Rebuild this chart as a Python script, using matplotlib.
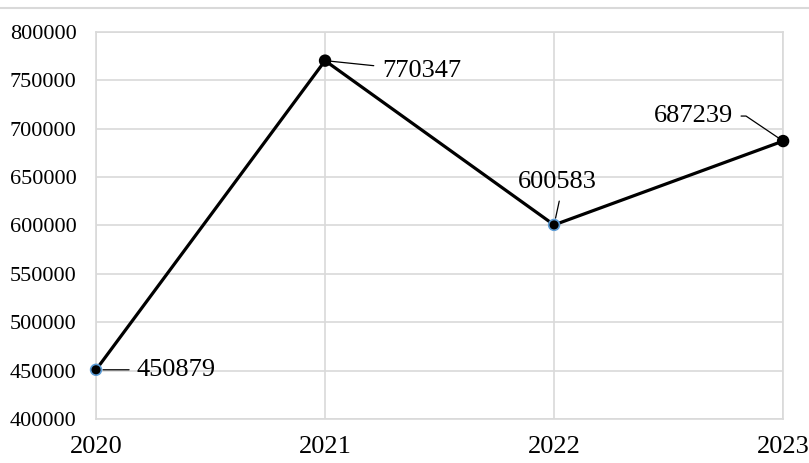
import matplotlib.pyplot as plt
from matplotlib.lines import Line2D

years = [2020, 2021, 2022, 2023]
values = [450879, 770347, 600583, 687239]
edge_colors = ['#5b9bd5', 'black', '#5b9bd5', 'black']

plt.rcParams['font.family'] = ['Liberation Serif', 'DejaVu Serif']

fig = plt.figure(figsize=(8.09, 4.63), dpi=100)
ax = fig.add_axes([0.1187, 0.095, 0.8493, 0.836])

ax.plot(years, values, color='black', linewidth=2.3, zorder=3, clip_on=False)
ax.scatter(years, values, s=60, color='black', edgecolors=edge_colors,
           linewidths=1.2, zorder=4, clip_on=False)

ax.set_xlim(2020, 2023)
ax.set_ylim(400000, 800000)
ax.set_xticks(years)
ax.set_yticks(range(400000, 800001, 50000))
ax.tick_params(axis='x', labelsize=19, length=0, pad=12)
ax.tick_params(axis='y', labelsize=16, length=0, pad=14)
ax.grid(color='#d9d9d9', linewidth=1.2)
ax.set_axisbelow(True)
for s in ax.spines.values():
    s.set_color('#d9d9d9')
    s.set_linewidth(1.2)

# data labels with leader lines
lead = dict(arrowstyle='-', color='black', lw=0.9)
ax.annotate(str(values[0]), (years[0], values[0]), xytext=(40, 0),
            textcoords='offset pixels', fontsize=19, ha='left', va='center',
            arrowprops=dict(lead, shrinkA=3, shrinkB=5))
ax.annotate(str(values[1]), (years[1], values[1]), xytext=(57, -10),
            textcoords='offset pixels', fontsize=19, ha='left', va='center',
            arrowprops=dict(lead, shrinkA=4, shrinkB=4))
ax.annotate(str(values[2]), (years[2], values[2]), xytext=(3, 43),
            textcoords='offset pixels', fontsize=19, ha='center', va='center',
            arrowprops=dict(lead, shrinkA=4, shrinkB=5, relpos=(0.55, 0)))
ax.annotate(str(values[3]), (years[3], values[3]), xytext=(-90, 25),
            textcoords='offset pixels', fontsize=19, ha='center', va='center',
            arrowprops=dict(lead, shrinkA=4, shrinkB=4,
                            connectionstyle='angle,angleA=0,angleB=146,rad=0',
                            relpos=(1, 0.5)))

fig.add_artist(Line2D([0, 1], [0.983, 0.983], color='#d9d9d9', linewidth=1.5,
                      transform=fig.transFigure))

fig.savefig('out.png', dpi=100)
